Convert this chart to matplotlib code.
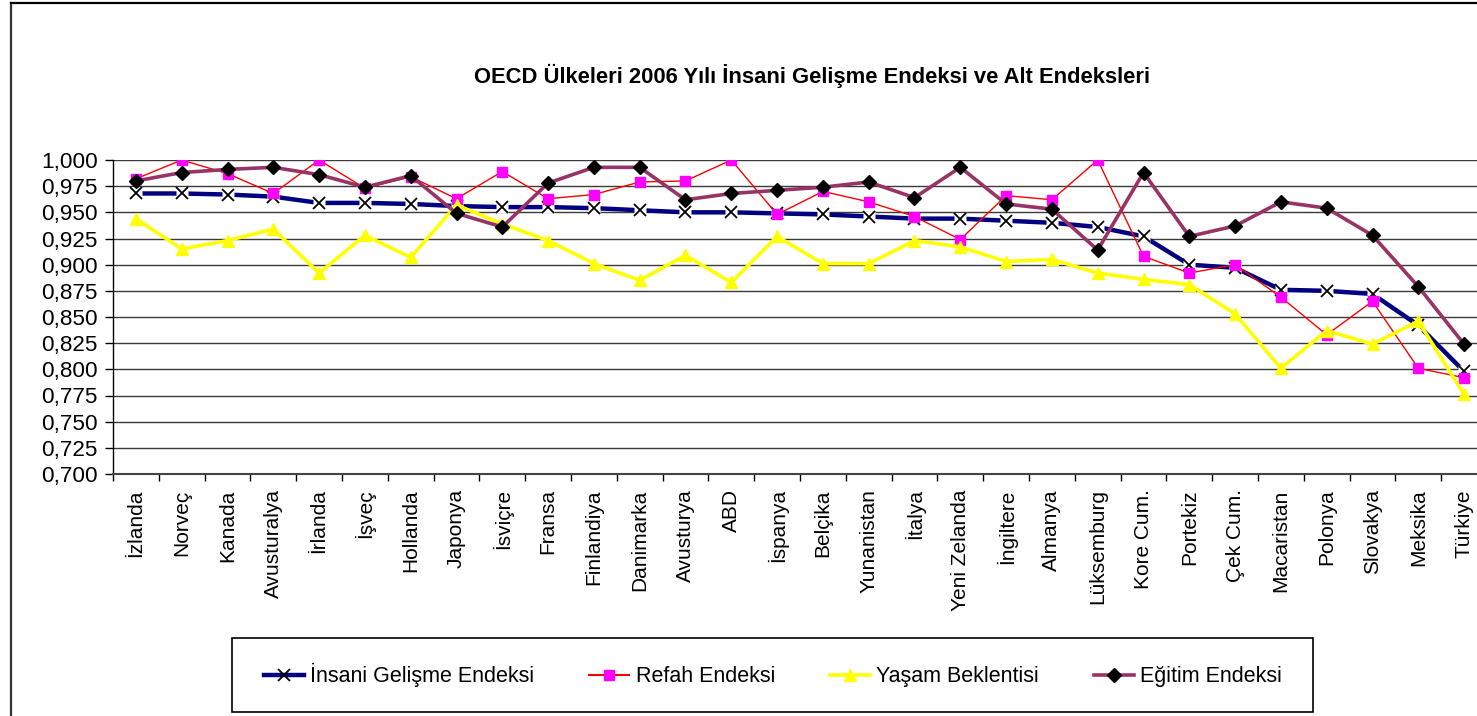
import matplotlib
matplotlib.use("Agg")
import matplotlib.pyplot as plt
from matplotlib.lines import Line2D
from matplotlib.patches import Rectangle
from matplotlib.ticker import FuncFormatter
import numpy as np

plt.rcParams['font.family'] = ['Liberation Sans', 'DejaVu Sans']

countries = ["İzlanda", "Norveç", "Kanada", "Avusturalya", "İrlanda", "İşveç", "Hollanda",
             "Japonya", "İsviçre", "Fransa", "Finlandiya", "Danimarka", "Avusturya", "ABD",
             "İspanya", "Belçika", "Yunanistan", "İtalya", "Yeni Zelanda", "İngiltere",
             "Almanya", "Lüksemburg", "Kore Cum.", "Portekiz", "Çek Cum.", "Macaristan",
             "Polonya", "Slovakya", "Meksika", "Türkiye"]

insani = [0.968, 0.968, 0.967, 0.965, 0.959, 0.959, 0.958, 0.956, 0.955, 0.955,
          0.954, 0.952, 0.950, 0.950, 0.949, 0.948, 0.946, 0.944, 0.944, 0.942,
          0.940, 0.936, 0.927, 0.900, 0.897, 0.876, 0.875, 0.872, 0.842, 0.798]

refah = [0.982, 1.000, 0.987, 0.968, 1.000, 0.973, 0.984, 0.963, 0.989, 0.963,
         0.967, 0.979, 0.980, 1.000, 0.948, 0.970, 0.960, 0.946, 0.924, 0.966,
         0.962, 1.000, 0.908, 0.892, 0.900, 0.869, 0.833, 0.865, 0.801, 0.792]

yasam = [0.944, 0.915, 0.923, 0.934, 0.892, 0.928, 0.907, 0.957, 0.939, 0.923,
         0.901, 0.885, 0.909, 0.883, 0.927, 0.901, 0.901, 0.923, 0.917, 0.903,
         0.905, 0.892, 0.886, 0.881, 0.853, 0.801, 0.837, 0.824, 0.846, 0.776]

egitim = [0.980, 0.988, 0.991, 0.993, 0.986, 0.974, 0.985, 0.949, 0.936, 0.978,
          0.993, 0.993, 0.962, 0.968, 0.971, 0.974, 0.979, 0.964, 0.993, 0.958,
          0.953, 0.914, 0.988, 0.927, 0.937, 0.960, 0.954, 0.928, 0.879, 0.824]

series_names = ["İnsani Gelişme Endeksi", "Refah Endeksi", "Yaşam Beklentisi", "Eğitim Endeksi"]
title = "OECD Ülkeleri 2006 Yılı İnsani Gelişme Endeksi ve Alt Endeksleri"

W, H = 1477, 716
fig = plt.figure(figsize=(W / 100, H / 100), dpi=100)

# axes in pixel coords: left 113, right 1487, top 160, bottom 474
ax_l, ax_r, ax_t, ax_b = 113, 1487, 160, 474
ax = fig.add_axes([ax_l / W, (H - ax_b) / H, (ax_r - ax_l) / W, (ax_b - ax_t) / H])

x = np.arange(len(countries))

# HDI: thick navy line, white-backed black x markers
ax.plot(x, insani, color='#000080', lw=3.2, zorder=2)
ax.plot(x, insani, ls='none', marker='s', ms=9, mfc='white', mec='none', zorder=2.1)
ax.plot(x, insani, ls='none', marker='x', ms=8, mec='black', mew=1.3, zorder=2.2)

ax.plot(x, refah, color='#FF0000', lw=1.0, marker='s', ms=7, mfc='#FF00FF', mec='#FF00FF', zorder=3)
ax.plot(x, yasam, color='#FFFF00', lw=2.6, marker='^', ms=9, mfc='#FFFF00', mec='#FFFF00', zorder=4)
ax.plot(x, egitim, color='#993366', lw=2.6, marker='D', ms=7.5, mfc='black', mec='black', zorder=5)

ax.set_xlim(-0.5, len(countries) - 0.5)
ax.set_ylim(0.700, 1.000)
ax.set_yticks(np.arange(0.700, 1.0001, 0.025))
ax.yaxis.set_major_formatter(FuncFormatter(lambda v, p: f"{v:.3f}".replace('.', ',')))
ax.set_xticks(x)
ax.set_xticklabels(countries, rotation=90, fontsize=15)
ax.set_xticks(np.arange(-0.5, len(countries), 1), minor=True)
ax.tick_params(axis='x', which='major', length=0, pad=11)
ax.tick_params(axis='x', which='minor', length=5, width=1, color='black', direction='out')
ax.tick_params(axis='y', which='major', length=6, width=1, color='black', direction='out',
               labelsize=16.2, pad=5)
ax.grid(axis='y', color='#3a3a3a', lw=1.0, zorder=0)
ax.set_axisbelow(True)
for s in ['top', 'right']:
    ax.spines[s].set_visible(False)
ax.spines['left'].set_color('black')
ax.spines['bottom'].set_color('#444444')
ax.spines['left'].set_linewidth(1.0)
ax.spines['bottom'].set_linewidth(1.5)

# title
fig.text(812 / W, 1 - 76 / H, title, ha='center', va='center', fontsize=15.8, fontweight='bold')

# outer chart frame (left and top edges)
fig.add_artist(Line2D([11 / W, 11 / W], [0, 1 - 3 / H], color='#333333', lw=1.6))
fig.add_artist(Line2D([11 / W, 1], [1 - 3 / H, 1 - 3 / H], color='black', lw=1.6))

# legend box
fig.add_artist(Rectangle((232 / W, (H - 712) / H), (1313 - 232) / W, (712 - 638) / H,
                         transform=fig.transFigure, fill=False, edgecolor='black', lw=1.2))

handles = [
    Line2D([], [], color='#000080', lw=3.2, marker='x', ms=8, mec='black', mew=1.3),
    Line2D([], [], color='#FF0000', lw=1.5, marker='s', ms=7, mfc='#FF00FF', mec='#FF00FF'),
    Line2D([], [], color='#FFFF00', lw=2.6, marker='^', ms=9, mfc='#FFFF00', mec='#FFFF00'),
    Line2D([], [], color='#993366', lw=2.6, marker='D', ms=7.5, mfc='black', mec='black'),
]
fig.legend(handles, series_names, loc='center', bbox_to_anchor=(773 / W, 1 - 675 / H),
           ncol=4, frameon=False, fontsize=15.5, handlelength=1.85, handletextpad=0.3,
           columnspacing=2.55)

fig.savefig("out.png", dpi=100)
